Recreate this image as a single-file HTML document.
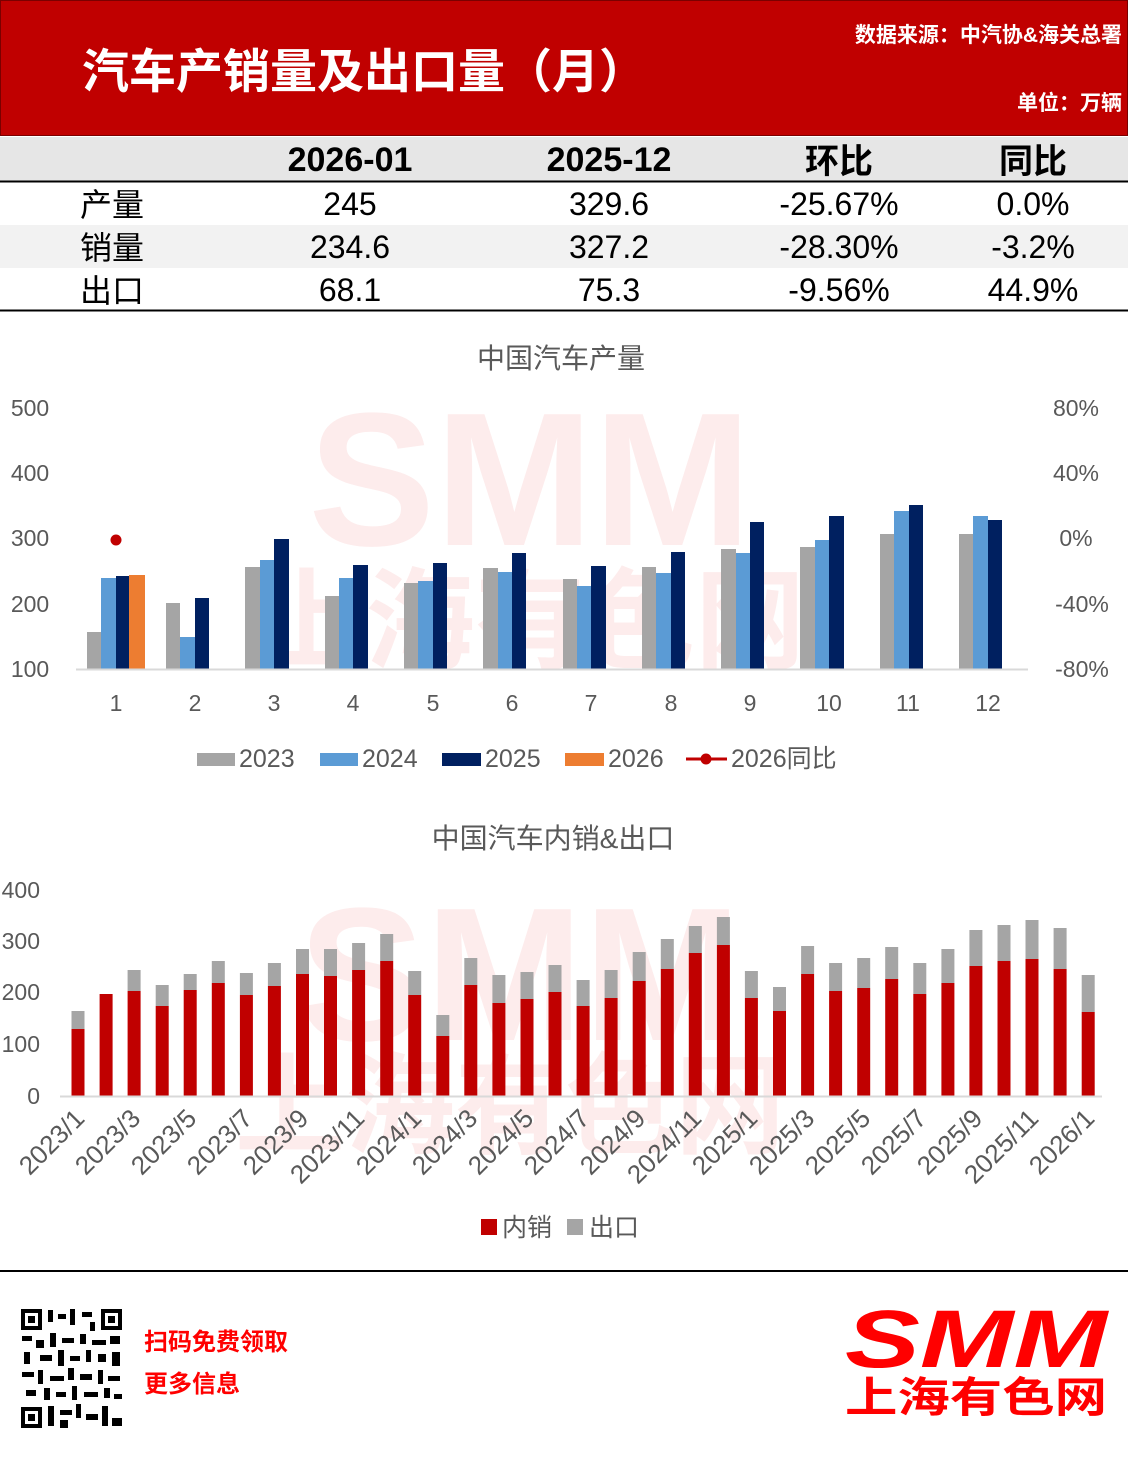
<!DOCTYPE html>
<html><head><meta charset="utf-8"><style>
html,body{margin:0;padding:0;background:#fff;}
svg{display:block;font-family:"Liberation Sans","Noto Sans CJK SC",sans-serif;}
</style></head><body>
<svg width="1128" height="1463" viewBox="0 0 1128 1463" xmlns="http://www.w3.org/2000/svg">
<rect x="0" y="0" width="1128" height="136" fill="#c00000"/>
<rect x="0.5" y="0.5" width="1127" height="135" fill="none" stroke="#7a0000" stroke-width="1"/>
<text x="82" y="88" font-size="47" font-weight="bold" fill="#fff">汽车产销量及出口量（月）</text>
<text x="1122" y="42" font-size="21" font-weight="bold" fill="#fff" text-anchor="end">数据来源：中汽协&amp;海关总署</text>
<text x="1122" y="110" font-size="21" font-weight="bold" fill="#fff" text-anchor="end">单位：万辆</text>
<rect x="0" y="137" width="1128" height="44" fill="#e6e6e6"/>
<line x1="0" y1="181.5" x2="1128" y2="181.5" stroke="#000" stroke-width="2"/>
<rect x="0" y="225" width="1128" height="43" fill="#f2f2f2"/>
<line x1="0" y1="310.5" x2="1128" y2="310.5" stroke="#000" stroke-width="2"/>
<g font-size="34" font-weight="bold" fill="#000" text-anchor="middle">
<text x="350" y="171">2026-01</text><text x="609" y="171">2025-12</text><text x="839" y="173">环比</text><text x="1033" y="173">同比</text>
</g>
<g font-size="32" fill="#000" text-anchor="middle">
<text x="112" y="216">产量</text><text x="350" y="215">245</text><text x="609" y="215">329.6</text><text x="839" y="215">-25.67%</text><text x="1033" y="215">0.0%</text>
<text x="112" y="259">销量</text><text x="350" y="258">234.6</text><text x="609" y="258">327.2</text><text x="839" y="258">-28.30%</text><text x="1033" y="258">-3.2%</text>
<text x="112" y="302">出口</text><text x="350" y="301">68.1</text><text x="609" y="301">75.3</text><text x="839" y="301">-9.56%</text><text x="1033" y="301">44.9%</text>
</g>
<g fill="#fdecec">
<text x="530" y="545" font-size="190" font-weight="bold" text-anchor="middle">SMM</text>
<text x="530" y="660" font-size="110" font-weight="bold" text-anchor="middle">上海有色网</text>
<text x="520" y="1040" font-size="190" font-weight="bold" text-anchor="middle">SMM</text>
<text x="510" y="1145" font-size="110" font-weight="bold" text-anchor="middle">上海有色网</text>
</g>
<text x="561" y="368" font-size="28" fill="#595959" text-anchor="middle">中国汽车产量</text>
<g font-size="23" fill="#595959" text-anchor="middle">
<text x="30" y="416">500</text><text x="30" y="481">400</text><text x="30" y="546">300</text><text x="30" y="612">200</text><text x="30" y="677">100</text>
<text x="1076" y="416">80%</text><text x="1076" y="481">40%</text><text x="1076" y="546">0%</text><text x="1082" y="612">-40%</text><text x="1082" y="677">-80%</text>
<text x="116" y="711">1</text><text x="195" y="711">2</text><text x="274" y="711">3</text><text x="353" y="711">4</text><text x="433" y="711">5</text><text x="512" y="711">6</text><text x="591" y="711">7</text><text x="671" y="711">8</text><text x="750" y="711">9</text><text x="829" y="711">10</text><text x="908" y="711">11</text><text x="988" y="711">12</text>
</g>
<g fill="#a5a5a5">
<rect x="87" y="632" width="14" height="37"/><rect x="166" y="603" width="14" height="66"/><rect x="245" y="567" width="15" height="102"/><rect x="325" y="596" width="14" height="73"/><rect x="404" y="583" width="14" height="86"/><rect x="483" y="568" width="15" height="101"/><rect x="563" y="579" width="14" height="90"/><rect x="642" y="567" width="14" height="102"/><rect x="721" y="549" width="15" height="120"/><rect x="800" y="547" width="15" height="122"/><rect x="880" y="534" width="14" height="135"/><rect x="959" y="534" width="14" height="135"/>
</g>
<g fill="#5b9bd5">
<rect x="101" y="578" width="15" height="91"/><rect x="180" y="637" width="15" height="32"/><rect x="260" y="560" width="14" height="109"/><rect x="339" y="578" width="14" height="91"/><rect x="418" y="581" width="15" height="88"/><rect x="498" y="572" width="14" height="97"/><rect x="577" y="586" width="14" height="83"/><rect x="656" y="573" width="15" height="96"/><rect x="736" y="553" width="14" height="116"/><rect x="815" y="540" width="14" height="129"/><rect x="894" y="511" width="15" height="158"/><rect x="973" y="516" width="15" height="153"/>
</g>
<g fill="#002060">
<rect x="116" y="576" width="13" height="93"/><rect x="195" y="598" width="14" height="71"/><rect x="274" y="539" width="15" height="130"/><rect x="353" y="565" width="15" height="104"/><rect x="433" y="563" width="14" height="106"/><rect x="512" y="553" width="14" height="116"/><rect x="591" y="566" width="15" height="103"/><rect x="671" y="552" width="14" height="117"/><rect x="750" y="522" width="14" height="147"/><rect x="829" y="516" width="15" height="153"/><rect x="909" y="505" width="14" height="164"/><rect x="988" y="520" width="14" height="149"/>
</g>
<rect x="129" y="575" width="16" height="94" fill="#ed7d31"/>
<line x1="76" y1="669.5" x2="1028" y2="669.5" stroke="#d9d9d9" stroke-width="2"/>
<circle cx="116" cy="540" r="5.5" fill="#c00000"/>
<g font-size="25" fill="#595959">
<rect x="197" y="753" width="38" height="13" fill="#a5a5a5"/><text x="239" y="767">2023</text>
<rect x="320" y="753" width="38" height="13" fill="#5b9bd5"/><text x="362" y="767">2024</text>
<rect x="442" y="753" width="39" height="13" fill="#002060"/><text x="485" y="767">2025</text>
<rect x="565" y="753" width="39" height="13" fill="#ed7d31"/><text x="608" y="767">2026</text>
<line x1="686" y1="759" x2="727" y2="759" stroke="#c00000" stroke-width="3"/><circle cx="706" cy="759" r="5.5" fill="#c00000"/><text x="731" y="767">2026同比</text>
</g>
<text x="553" y="848" font-size="28" fill="#595959" text-anchor="middle">中国汽车内销&amp;出口</text>
<g font-size="23" fill="#595959" text-anchor="end">
<text x="40" y="898">400</text><text x="40" y="949">300</text><text x="40" y="1000">200</text><text x="40" y="1052">100</text><text x="40" y="1104">0</text>
</g>
<g fill="#a5a5a5">
<rect x="71.5" y="1011" width="13" height="18"/><rect x="127.6" y="970" width="13" height="21"/><rect x="155.7" y="985" width="13" height="21"/><rect x="183.7" y="974" width="13" height="16"/><rect x="211.8" y="961" width="13" height="22"/><rect x="239.9" y="973" width="13" height="22"/><rect x="267.9" y="963" width="13" height="23"/><rect x="296.0" y="949" width="13" height="25"/><rect x="324.0" y="949" width="13" height="27"/><rect x="352.1" y="943" width="13" height="27"/><rect x="380.2" y="934" width="13" height="27"/><rect x="408.2" y="971" width="13" height="24"/><rect x="436.3" y="1015" width="13" height="21"/><rect x="464.3" y="958" width="13" height="27"/><rect x="492.4" y="975" width="13" height="28"/><rect x="520.5" y="972" width="13" height="27"/><rect x="548.5" y="965" width="13" height="27"/><rect x="576.6" y="980" width="13" height="26"/><rect x="604.6" y="970" width="13" height="28"/><rect x="632.7" y="952" width="13" height="29"/><rect x="660.8" y="939" width="13" height="30"/><rect x="688.8" y="926" width="13" height="27"/><rect x="716.9" y="917" width="13" height="28"/><rect x="744.9" y="971" width="13" height="27"/><rect x="773.0" y="987" width="13" height="24"/><rect x="801.1" y="946" width="13" height="28"/><rect x="829.1" y="963" width="13" height="28"/><rect x="857.2" y="958" width="13" height="30"/><rect x="885.2" y="947" width="13" height="32"/><rect x="913.3" y="963" width="13" height="31"/><rect x="941.4" y="949" width="13" height="34"/><rect x="969.4" y="930" width="13" height="36"/><rect x="997.5" y="925" width="13" height="36"/><rect x="1025.5" y="920" width="13" height="39"/><rect x="1053.6" y="928" width="13" height="41"/><rect x="1081.7" y="975" width="13" height="37"/>
</g>
<g fill="#c00000">
<rect x="71.5" y="1029" width="13" height="67"/><rect x="99.6" y="994" width="13" height="102"/><rect x="127.6" y="991" width="13" height="105"/><rect x="155.7" y="1006" width="13" height="90"/><rect x="183.7" y="990" width="13" height="106"/><rect x="211.8" y="983" width="13" height="113"/><rect x="239.9" y="995" width="13" height="101"/><rect x="267.9" y="986" width="13" height="110"/><rect x="296.0" y="974" width="13" height="122"/><rect x="324.0" y="976" width="13" height="120"/><rect x="352.1" y="970" width="13" height="126"/><rect x="380.2" y="961" width="13" height="135"/><rect x="408.2" y="995" width="13" height="101"/><rect x="436.3" y="1036" width="13" height="60"/><rect x="464.3" y="985" width="13" height="111"/><rect x="492.4" y="1003" width="13" height="93"/><rect x="520.5" y="999" width="13" height="97"/><rect x="548.5" y="992" width="13" height="104"/><rect x="576.6" y="1006" width="13" height="90"/><rect x="604.6" y="998" width="13" height="98"/><rect x="632.7" y="981" width="13" height="115"/><rect x="660.8" y="969" width="13" height="127"/><rect x="688.8" y="953" width="13" height="143"/><rect x="716.9" y="945" width="13" height="151"/><rect x="744.9" y="998" width="13" height="98"/><rect x="773.0" y="1011" width="13" height="85"/><rect x="801.1" y="974" width="13" height="122"/><rect x="829.1" y="991" width="13" height="105"/><rect x="857.2" y="988" width="13" height="108"/><rect x="885.2" y="979" width="13" height="117"/><rect x="913.3" y="994" width="13" height="102"/><rect x="941.4" y="983" width="13" height="113"/><rect x="969.4" y="966" width="13" height="130"/><rect x="997.5" y="961" width="13" height="135"/><rect x="1025.5" y="959" width="13" height="137"/><rect x="1053.6" y="969" width="13" height="127"/><rect x="1081.7" y="1012" width="13" height="84"/>
</g>
<line x1="60" y1="1096.5" x2="1102" y2="1096.5" stroke="#d9d9d9" stroke-width="2"/>
<g font-size="26" fill="#595959" text-anchor="end">
<text transform="translate(86,1120) rotate(-45)">2023/1</text>
<text transform="translate(142,1120) rotate(-45)">2023/3</text>
<text transform="translate(198,1120) rotate(-45)">2023/5</text>
<text transform="translate(254,1120) rotate(-45)">2023/7</text>
<text transform="translate(310,1120) rotate(-45)">2023/9</text>
<text transform="translate(366,1120) rotate(-45)">2023/11</text>
<text transform="translate(423,1120) rotate(-45)">2024/1</text>
<text transform="translate(479,1120) rotate(-45)">2024/3</text>
<text transform="translate(535,1120) rotate(-45)">2024/5</text>
<text transform="translate(591,1120) rotate(-45)">2024/7</text>
<text transform="translate(647,1120) rotate(-45)">2024/9</text>
<text transform="translate(703,1120) rotate(-45)">2024/11</text>
<text transform="translate(759,1120) rotate(-45)">2025/1</text>
<text transform="translate(816,1120) rotate(-45)">2025/3</text>
<text transform="translate(872,1120) rotate(-45)">2025/5</text>
<text transform="translate(928,1120) rotate(-45)">2025/7</text>
<text transform="translate(984,1120) rotate(-45)">2025/9</text>
<text transform="translate(1040,1120) rotate(-45)">2025/11</text>
<text transform="translate(1096,1120) rotate(-45)">2026/1</text>
</g>
<g font-size="25" fill="#595959">
<rect x="481" y="1219" width="16" height="16" fill="#c00000"/><text x="502" y="1236">内销</text>
<rect x="567" y="1219" width="16" height="16" fill="#a5a5a5"/><text x="589" y="1236">出口</text>
</g>
<line x1="0" y1="1271" x2="1128" y2="1271" stroke="#000" stroke-width="2"/>
<g>
<rect x="21" y="1309" width="21" height="21" fill="#000"/><rect x="25" y="1313" width="13" height="13" fill="#fff"/><rect x="28" y="1316" width="7" height="7" fill="#000"/>
<rect x="101" y="1309" width="21" height="21" fill="#000"/><rect x="105" y="1313" width="13" height="13" fill="#fff"/><rect x="108" y="1316" width="7" height="7" fill="#000"/>
<rect x="21" y="1407" width="21" height="21" fill="#000"/><rect x="25" y="1411" width="13" height="13" fill="#fff"/><rect x="28" y="1414" width="7" height="7" fill="#000"/>
<g fill="#000">
<rect x="48" y="1310" width="5" height="12"/><rect x="58" y="1314" width="8" height="5"/><rect x="70" y="1309" width="5" height="16"/><rect x="82" y="1312" width="10" height="5"/><rect x="90" y="1322" width="5" height="9"/>
<rect x="22" y="1336" width="10" height="5"/><rect x="36" y="1340" width="8" height="8"/><rect x="50" y="1333" width="6" height="14"/><rect x="62" y="1338" width="12" height="5"/><rect x="80" y="1334" width="6" height="10"/><rect x="92" y="1340" width="14" height="5"/><rect x="110" y="1336" width="10" height="8"/>
<rect x="24" y="1352" width="6" height="12"/><rect x="40" y="1355" width="12" height="6"/><rect x="58" y="1350" width="6" height="16"/><rect x="70" y="1356" width="10" height="5"/><rect x="86" y="1350" width="5" height="12"/><rect x="98" y="1354" width="8" height="8"/><rect x="112" y="1352" width="8" height="14"/>
<rect x="22" y="1372" width="12" height="5"/><rect x="38" y="1370" width="5" height="14"/><rect x="50" y="1376" width="14" height="5"/><rect x="68" y="1368" width="6" height="12"/><rect x="80" y="1374" width="12" height="6"/><rect x="98" y="1370" width="5" height="14"/><rect x="108" y="1376" width="12" height="5"/>
<rect x="26" y="1390" width="10" height="6"/><rect x="44" y="1388" width="6" height="12"/><rect x="56" y="1392" width="10" height="5"/><rect x="72" y="1386" width="5" height="14"/><rect x="84" y="1392" width="14" height="5"/><rect x="104" y="1388" width="6" height="10"/><rect x="114" y="1394" width="8" height="5"/>
<rect x="48" y="1406" width="6" height="20"/><rect x="60" y="1410" width="12" height="5"/><rect x="76" y="1404" width="5" height="14"/><rect x="86" y="1414" width="12" height="6"/><rect x="102" y="1406" width="6" height="20"/><rect x="112" y="1418" width="10" height="8"/><rect x="60" y="1420" width="8" height="8"/>
</g>
</g>
<text x="144" y="1350" font-size="24" font-weight="bold" fill="#ff0000">扫码免费领取</text>
<text x="144" y="1392" font-size="24" font-weight="bold" fill="#ff0000">更多信息</text>
<text x="976" y="1367" font-size="82" font-weight="bold" font-style="italic" fill="#ff0000" text-anchor="middle" textLength="262" lengthAdjust="spacingAndGlyphs">SMM</text>
<text x="976" y="1412" font-size="42" font-weight="bold" fill="#ff0000" text-anchor="middle" textLength="262" lengthAdjust="spacingAndGlyphs">上海有色网</text>
</svg>
</body></html>
